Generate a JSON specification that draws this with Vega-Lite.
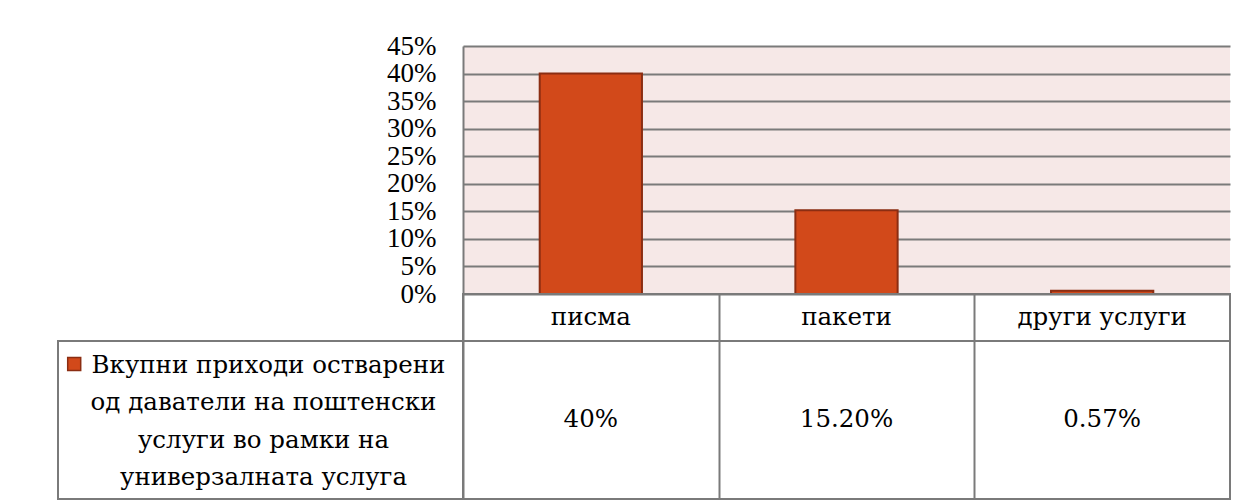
{
  "$schema": "https://vega.github.io/schema/vega-lite/v6.json",
  "padding": {"left": 57, "top": 32, "right": 0, "bottom": 0},
  "background": "white",
  "columns": 2,
  "spacing": 0,
  "bounds": "flush",
  "datasets": {
    "table": [
      {"category": "писма", "value": 40, "label": "40%"},
      {"category": "пакети", "value": 15.2, "label": "15.20%"},
      {"category": "други услуги", "value": 0.57, "label": "0.57%"}
    ],
    "legend": [
      {"line": 1, "text": "Вкупни приходи остварени"},
      {"line": 2, "text": "од даватели на поштенски"},
      {"line": 3, "text": "услуги во рамки на"},
      {"line": 4, "text": "универзалната услуга"}
    ]
  },
  "config": {"font": "DejaVu Serif", "text": {"font": "DejaVu Serif", "fontSize": 24.5, "color": "#000000"}},
  "concat": [
    {
      "width": 405, "height": 248,
      "data": {"values": [{"a": 1}]},
      "view": {"stroke": null},
      "mark": {"type": "text", "text": ""},
      "encoding": {}
    },
    {
      "width": 767, "height": 248,
      "data": {"name": "table"},
      "view": {"fill": "#F6E8E7", "stroke": null},
      "mark": {"type": "bar", "fill": "#D2491A", "stroke": "#8B2D12", "strokeWidth": 2},
      "encoding": {
        "x": {"field": "category", "type": "nominal", "sort": null, "scale": {"paddingInner": 0.6, "paddingOuter": 0.3}, "axis": null},
        "y": {"field": "value", "type": "quantitative", "scale": {"domain": [0, 45], "nice": false},
          "axis": {"values": [0, 5, 10, 15, 20, 25, 30, 35, 40, 45], "labelExpr": "datum.value + '%'", "title": null, "ticks": false,
            "grid": true, "gridColor": "#7A7A7A", "gridWidth": 2, "gridOpacity": 1, "domainColor": "#7A7A7A", "domainWidth": 2,
            "labelFont": "Liberation Serif", "labelFontSize": 27, "labelColor": "#000000", "labelPadding": 27}}
      }
    },
    {
      "width": 405, "height": 47,
      "data": {"values": [{"a": 1}]},
      "view": {"stroke": null},
      "mark": {"type": "text", "text": ""},
      "encoding": {}
    },
    {
      "width": 767, "height": 47,
      "data": {"name": "table"},
      "view": {"stroke": "#7A7A7A", "strokeWidth": 2},
      "mark": {"type": "text", "fontSize": 24.5, "baseline": "middle"},
      "encoding": {
        "x": {"field": "category", "type": "nominal", "sort": null, "scale": {"paddingInner": 0, "paddingOuter": 0},
          "axis": {"tickBand": "extent", "grid": true, "gridColor": "#7A7A7A", "gridWidth": 2, "gridOpacity": 1, "labels": false, "ticks": false, "domain": false, "title": null}},
        "text": {"field": "category"}
      }
    },
    {
      "width": 405, "height": 158,
      "data": {"name": "legend"},
      "view": {"stroke": "#7A7A7A", "strokeWidth": 2},
      "encoding": {
        "y": {"field": "line", "type": "ordinal", "scale": {"type": "point", "padding": 0.62}, "axis": null}
      },
      "layer": [
        {
          "transform": [{"filter": "datum.line == 1"}],
          "mark": {"type": "text", "fontSize": 24.5, "align": "center", "baseline": "middle", "dx": 8, "dy": 2},
          "encoding": {
            "x": {"datum": 0.5, "type": "quantitative", "scale": {"domain": [0, 1]}, "axis": null},
            "text": {"field": "text"}
          }
        },
        {
          "transform": [{"filter": "datum.line > 1"}],
          "mark": {"type": "text", "fontSize": 24.5, "align": "center", "baseline": "middle", "dx": 3, "dy": 2},
          "encoding": {
            "x": {"datum": 0.5, "type": "quantitative", "scale": {"domain": [0, 1]}, "axis": null},
            "text": {"field": "text"}
          }
        },
        {
          "transform": [{"filter": "datum.line == 1"}],
          "mark": {"type": "point", "shape": "square", "filled": true, "size": 169, "fill": "#D2491A", "stroke": "#8B2D12", "strokeWidth": 1.5, "opacity": 1, "dy": 0},
          "encoding": {
            "x": {"datum": 0.04, "type": "quantitative", "scale": {"domain": [0, 1]}, "axis": null}
          }
        }
      ]
    },
    {
      "width": 767, "height": 158,
      "data": {"name": "table"},
      "view": {"stroke": "#7A7A7A", "strokeWidth": 2},
      "mark": {"type": "text", "fontSize": 24.5, "baseline": "middle"},
      "encoding": {
        "x": {"field": "category", "type": "nominal", "sort": null, "scale": {"paddingInner": 0, "paddingOuter": 0},
          "axis": {"tickBand": "extent", "grid": true, "gridColor": "#7A7A7A", "gridWidth": 2, "gridOpacity": 1, "labels": false, "ticks": false, "domain": false, "title": null}},
        "text": {"field": "label"}
      }
    }
  ]
}
